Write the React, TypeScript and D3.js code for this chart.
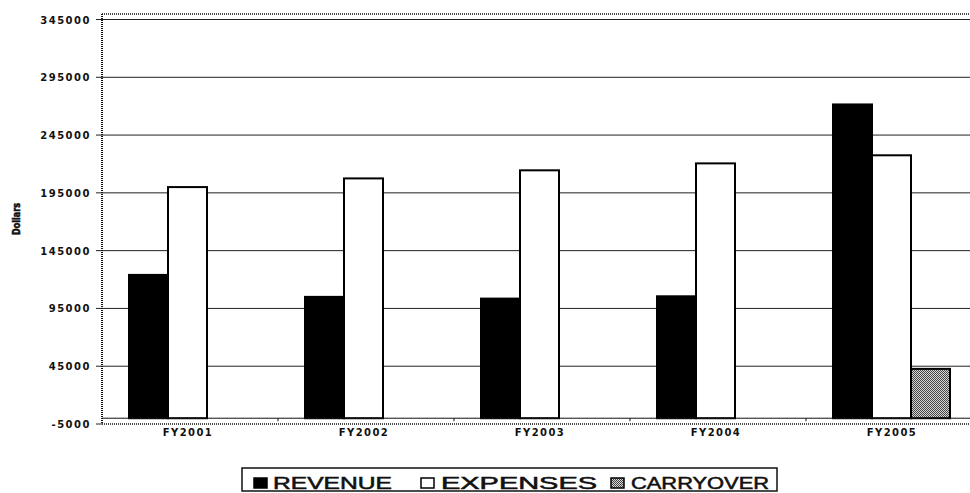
import React from 'react';
import * as d3 from 'd3';

const categories = ['FY2001', 'FY2002', 'FY2003', 'FY2004', 'FY2005'];
const seriesNames = ['REVENUE', 'EXPENSES', 'CARRYOVER'];
const revenue = [124000, 105000, 103500, 105500, 271500];
const expenses = [200000, 207500, 214500, 220500, 227500];
const carryover = [0, 0, 0, 0, 42700];
const yTicks = [-5000, 45000, 95000, 145000, 195000, 245000, 295000, 345000];

const width = 970;
const height = 493;
const left = 102;
const font = '"DejaVu Sans", Arial, sans-serif';
const legendFont = '"Liberation Sans", Arial, sans-serif';

const App = () => {
  const values = [revenue, expenses, carryover];

  const y = d3.scaleLinear().domain([-5000, 345000]).range([424, 19.5]);
  const x0 = d3.scaleBand<string>().domain(categories).range([left, left + 176 * 5]);
  const x1 = d3.scaleBand<string>().domain(seriesNames).range([27, 176 - 32]);

  const fills = ['#000', '#fff', 'url(#carry)'];

  // legend layout: marker x, text x, text length
  const legendItems = [
    { mx: 254, tx: 273, len: 119 },
    { mx: 421, tx: 441, len: 156 },
    { mx: 611, tx: 631, len: 138 },
  ];

  return (
    <svg width={width} height={height} style={{ position: 'absolute', left: 0, top: 0, background: '#fff' }}>
      <defs>
        <pattern id="carry" width="2" height="2" patternUnits="userSpaceOnUse">
          <rect width="2" height="2" fill="#d8d8d8" />
          <rect width="1" height="1" fill="#444" />
          <rect x="1" y="1" width="1" height="1" fill="#444" />
        </pattern>
      </defs>

      {/* gridlines + y ticks */}
      {yTicks.map(t => (
        <g key={t}>
          {t !== -5000 && (
            <line x1={left} x2={width} y1={y(t)} y2={y(t)} stroke="#222" strokeWidth={1} />
          )}
          <line x1={96} x2={left} y1={y(t)} y2={y(t)} stroke="#222" strokeWidth={1} />
          <text
            x={91}
            y={y(t) + 4}
            textAnchor="end"
            fontFamily={font}
            fontWeight="bold"
            fontSize={10}
            letterSpacing={1.5}
            fill="#111"
          >
            {t}
          </text>
        </g>
      ))}

      {/* plot area border (dotted) */}
      <line x1={left} x2={width} y1={14} y2={14} stroke="#111" strokeWidth={1.5} strokeDasharray="1,1" />
      <line x1={left} x2={width} y1={y(-5000)} y2={y(-5000)} stroke="#111" strokeWidth={1.5} strokeDasharray="1,1" />
      <line x1={left} x2={left} y1={14} y2={y(-5000)} stroke="#111" strokeWidth={2} strokeDasharray="1,1" />

      {/* bars */}
      {categories.map((c, i) => (
        <g key={c} transform={`translate(${x0(c)},0)`}>
          {seriesNames.map((s, j) => {
            const v = values[j][i];
            if (!v) return null;
            return (
              <rect
                key={s}
                x={x1(s)}
                y={y(v)}
                width={x1.bandwidth()}
                height={y(0) - y(v)}
                fill={fills[j]}
                stroke="#000"
                strokeWidth={2}
              />
            );
          })}
        </g>
      ))}

      {/* category axis at zero */}
      <line x1={left} x2={width} y1={y(0)} y2={y(0)} stroke="#111" strokeWidth={1} />
      {categories.map((c, i) => (
        <g key={c}>
          {i > 0 && (
            <line x1={x0(c)} x2={x0(c)} y1={y(0)} y2={y(0) + 3} stroke="#111" strokeWidth={1} />
          )}
          <text
            x={(x0(c) as number) + x0.bandwidth() / 2 - 2}
            y={436}
            textAnchor="middle"
            fontFamily={font}
            fontWeight="bold"
            fontSize={10}
            letterSpacing={1.4}
            fill="#111"
          >
            {c}
          </text>
        </g>
      ))}

      {/* y axis title */}
      <text
        transform="translate(20,219) rotate(-90)"
        textAnchor="middle"
        fontFamily={font}
        fontWeight="bold"
        fontSize={11}
        textLength={32}
        lengthAdjust="spacingAndGlyphs"
        stroke="#111"
        strokeWidth={0.6}
        fill="#111"
      >
        Dollars
      </text>

      {/* legend */}
      <rect x={242} y={468} width={535} height={23} fill="#fff" stroke="#111" strokeWidth={1.5} />
      {seriesNames.map((s, j) => (
        <g key={s}>
          <rect
            x={legendItems[j].mx}
            y={478}
            width={13}
            height={10}
            fill={fills[j]}
            stroke="#000"
            strokeWidth={1.5}
          />
          <text
            x={legendItems[j].tx}
            y={488.5}
            fontFamily={legendFont}
            fontSize={16}
            textLength={legendItems[j].len}
            lengthAdjust="spacingAndGlyphs"
            stroke="#111"
            strokeWidth={0.5}
            fill="#111"
          >
            {s}
          </text>
        </g>
      ))}
    </svg>
  );
};

export default App;
